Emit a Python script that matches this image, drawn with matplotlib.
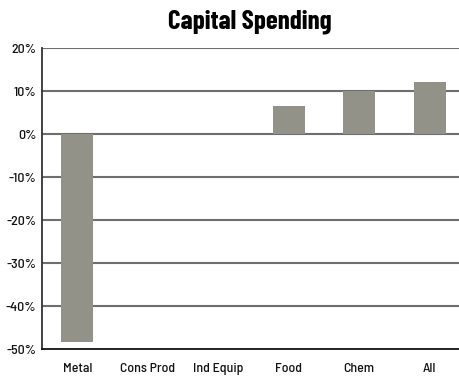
import matplotlib
matplotlib.use("Agg")
import matplotlib.pyplot as plt
from matplotlib.ticker import FuncFormatter

categories = ["Metal", "Cons Prod", "Ind Equip", "Food", "Chem", "All"]
spending = [-48.4, 0.0, 0.0, 6.4, 9.9, 12.0]
y_ticks = [-50, -40, -30, -20, -10, 0, 10, 20]

plt.rcParams["font.family"] = ["Barlow Semi Condensed", "DejaVu Sans"]

fig = plt.figure(figsize=(4.59, 3.76), dpi=100)
ax = fig.add_axes([0.0915, 0.0718, 0.9216, 0.8005])

x = range(len(categories))
ax.bar(x, spending, width=0.45, color="#929288", zorder=2)

ax.set_xlim(-0.5, len(categories) - 0.5)
ax.set_ylim(-50, 20)
ax.set_yticks(y_ticks)
ax.yaxis.set_major_formatter(FuncFormatter(lambda v, p: f"{v:.0f}%"))
ax.set_xticks(list(x))
ax.set_xticklabels(categories)

for v in y_ticks[1:]:
    ax.axhline(v, color="#6e6e6e", lw=1.5, zorder=1)

for s in ["top", "right"]:
    ax.spines[s].set_visible(False)
ax.spines["left"].set_color("#333333")
ax.spines["bottom"].set_color("#111111")
ax.spines["left"].set_linewidth(1.3)
ax.spines["bottom"].set_linewidth(1.3)

for lab in ax.get_xticklabels() + ax.get_yticklabels():
    lab.set_fontweight(500)
ax.tick_params(axis="both", length=0, labelsize=10, colors="#111111")
ax.tick_params(axis="x", pad=10)
ax.tick_params(axis="y", pad=4)

fig.text(0.545, 0.942, "Capital Spending", ha="center", va="center",
         fontsize=19.5, fontweight="bold", family=["Barlow Condensed", "DejaVu Sans"])

fig.savefig("out.png", dpi=100)
